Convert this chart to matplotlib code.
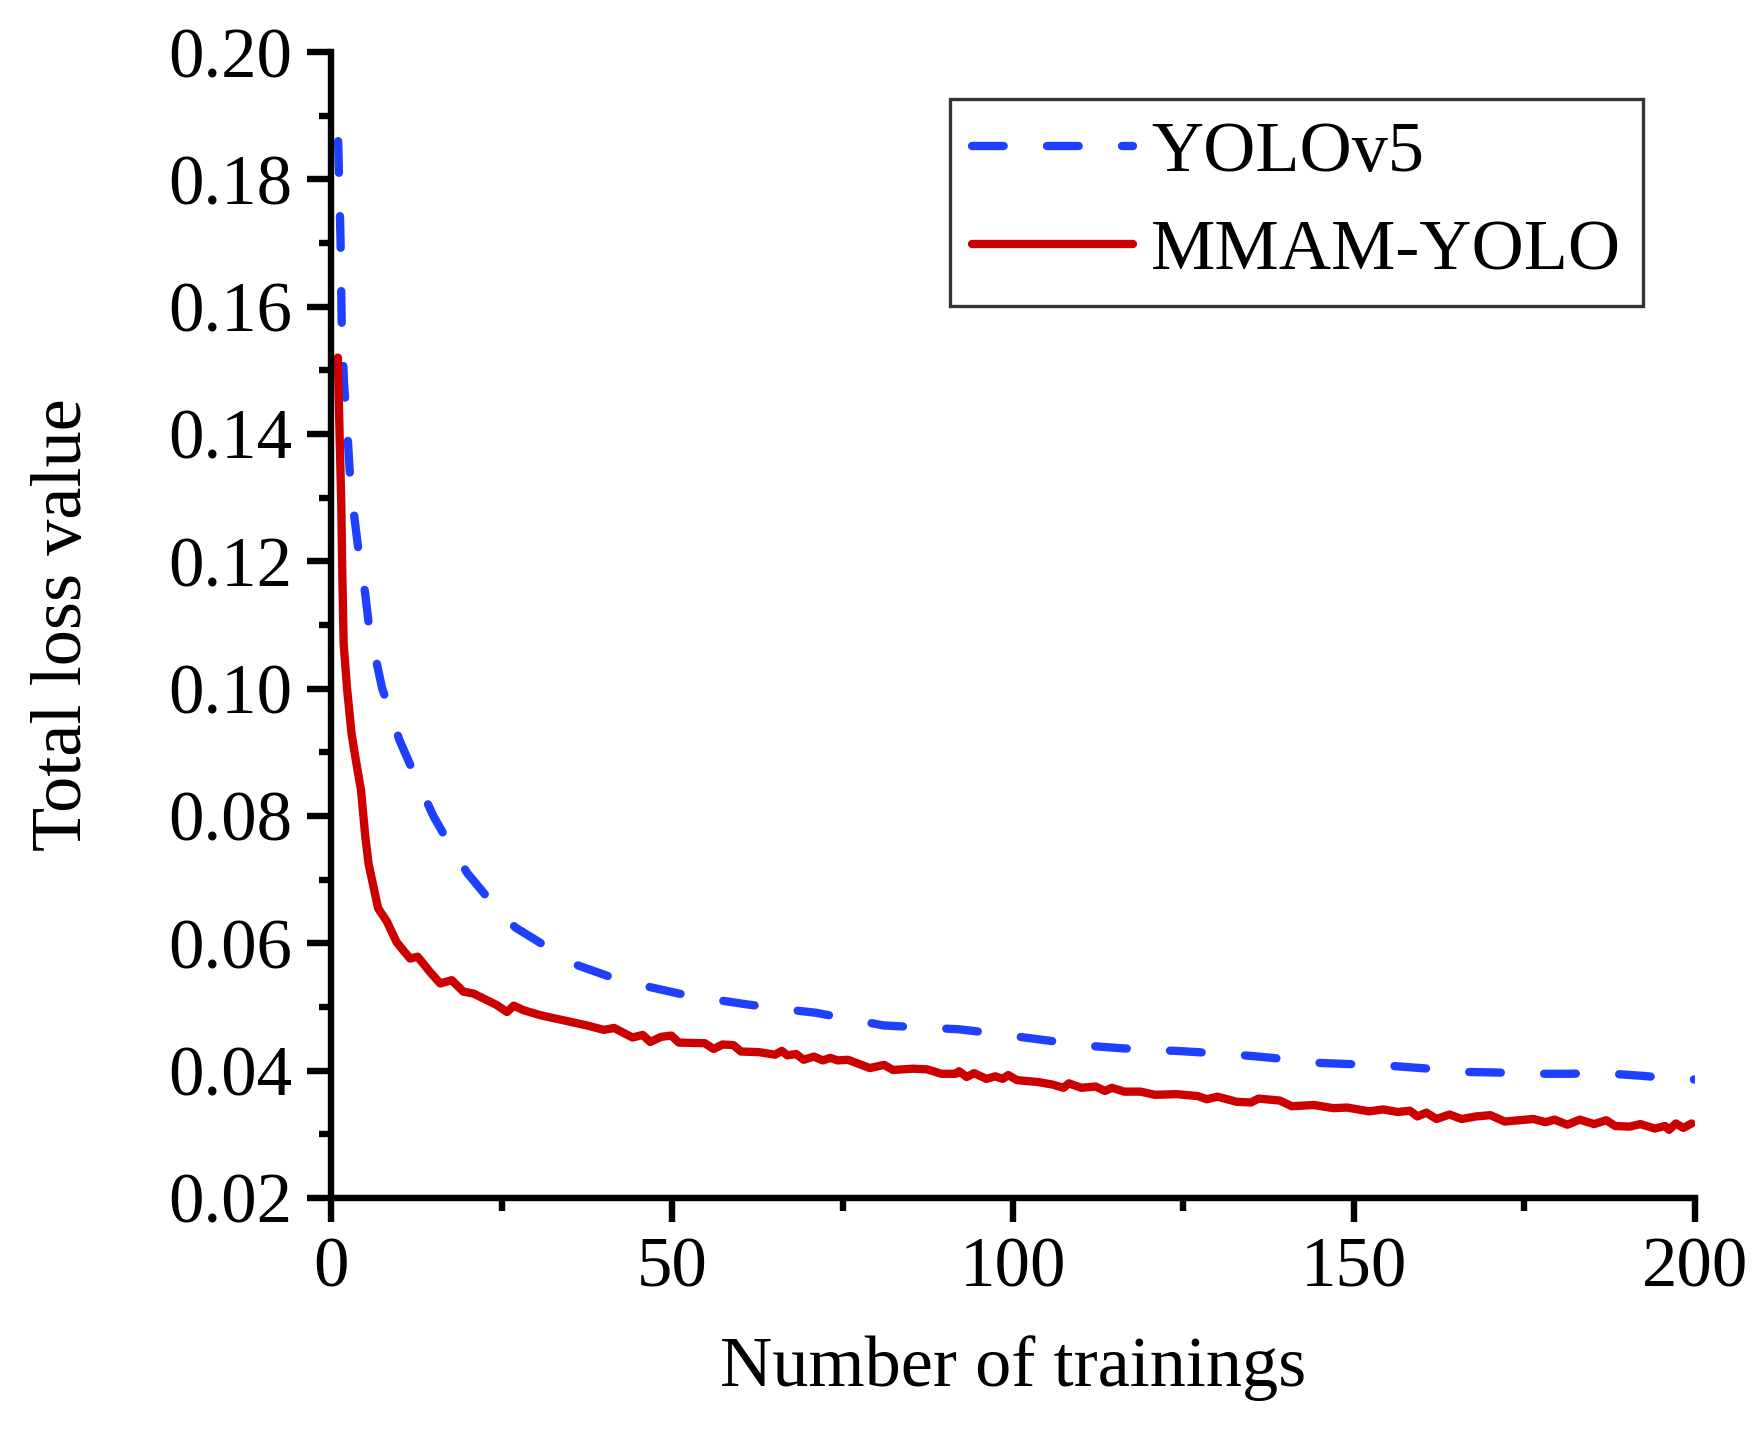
import numpy as np
import matplotlib
matplotlib.use("Agg")
import matplotlib.pyplot as plt
from matplotlib.ticker import MultipleLocator, FormatStrFormatter

plt.rcParams['font.family'] = ['Liberation Serif', 'DejaVu Serif']
plt.rcParams['mathtext.fontset'] = 'stix'

# YOLOv5 total loss
yolo_epoch = [1.05, 1.2, 1.4, 1.55, 1.9, 2.3, 2.75, 3.3, 4.1, 5.0, 5.6, 6.5, 7.5, 8.5,
              10.0, 12.4, 15.0, 17.5, 20.0, 23.4, 27.0, 32.0, 36.0, 41.0, 46.0, 51.0,
              56.0, 61.0, 66.0, 71.0, 76.0, 81.0, 86.0, 92.0, 96.0, 101.0, 106.0, 111.0,
              116.0, 121.0, 124.0, 130.0, 135.0, 140.0, 145.0, 150.0, 156.0, 161.0,
              166.0, 171.0, 176.5, 181.0, 186.5, 192.0, 197.5, 200.0]
yolo_loss = [0.186, 0.179, 0.170, 0.158, 0.148, 0.142, 0.134, 0.128, 0.121, 0.115, 0.1095,
             0.105, 0.100, 0.097, 0.092, 0.0861, 0.0800, 0.0753, 0.0710, 0.0666, 0.0625,
             0.0592, 0.0566, 0.0547, 0.0533, 0.0521, 0.0512, 0.0504, 0.0497, 0.0491,
             0.0481, 0.0471, 0.0468, 0.0465, 0.0460, 0.0453, 0.0446, 0.0439, 0.0435,
             0.0432, 0.0431, 0.0427, 0.0423, 0.0418, 0.0412, 0.0410, 0.0407, 0.0403,
             0.0398, 0.0397, 0.0395, 0.0395, 0.0396, 0.0392, 0.0387, 0.0386]

# MMAM-YOLO total loss
mmam_epoch = [1.0, 1.25, 1.5, 1.65, 1.85, 2.35, 3.0, 3.6, 4.4, 5.0, 5.5, 6.0, 6.9, 8.2,
              9.6, 10.5, 11.6, 12.7, 14.5, 16.0, 17.7, 19.4, 20.9, 22.4, 24.3, 25.8, 26.8,
              28.2, 30.7, 34.1, 37.5, 40.0, 41.5, 44.2, 45.7, 46.8, 48.4, 49.9, 51.0, 54.8,
              56.1, 57.4, 59.0, 60.1, 62.7, 65.1, 66.1, 66.9, 68.2, 69.3, 70.8, 72.1, 73.2,
              74.3, 75.8, 79.0, 81.1, 82.4, 85.3, 87.4, 89.5, 91.6, 92.1, 93.2, 94.3, 96.1,
              97.4, 98.5, 99.3, 100.6, 103.7, 105.8, 107.4, 108.2, 110.0, 112.1, 113.5,
              114.5, 116.3, 118.7, 120.8, 124.0, 127.1, 128.4, 130.0, 132.8, 134.9, 136.0,
              139.1, 140.9, 144.1, 147.0, 149.0, 152.2, 154.3, 156.4, 158.2, 159.3, 160.6,
              162.1, 164.0, 165.8, 167.9, 170.0, 172.1, 174.2, 176.3, 178.1, 179.4, 181.3,
              183.1, 185.2, 187.0, 188.3, 190.4, 192.0, 194.1, 195.6, 196.2, 197.2, 198.3,
              199.5]
mmam_loss = [0.152, 0.140, 0.129, 0.118, 0.107, 0.100, 0.093, 0.089, 0.084, 0.077, 0.0725,
             0.0700, 0.0655, 0.0634, 0.0602, 0.0590, 0.0576, 0.0579, 0.0555, 0.0537, 0.0542,
             0.0524, 0.0521, 0.0513, 0.0503, 0.0492, 0.0502, 0.0495, 0.0487, 0.0479, 0.0471,
             0.0464, 0.0467, 0.0452, 0.0456, 0.0445, 0.0453, 0.0455, 0.0444, 0.0443, 0.0434,
             0.0441, 0.0440, 0.0430, 0.0429, 0.0425, 0.0431, 0.0424, 0.0426, 0.0417, 0.0422,
             0.0416, 0.0420, 0.0416, 0.0417, 0.0404, 0.0409, 0.0401, 0.0403, 0.0402, 0.0395,
             0.0395, 0.0399, 0.0390, 0.0396, 0.0387, 0.0391, 0.0387, 0.0393, 0.0385, 0.0382,
             0.0378, 0.0373, 0.0380, 0.0373, 0.0375, 0.0368, 0.0373, 0.0367, 0.0367, 0.0362,
             0.0363, 0.0360, 0.0355, 0.0359, 0.0351, 0.0350, 0.0356, 0.0353, 0.0344, 0.0346,
             0.0341, 0.0342, 0.0336, 0.0339, 0.0335, 0.0337, 0.0328, 0.0334, 0.0324, 0.0331,
             0.0324, 0.0328, 0.0330, 0.0320, 0.0322, 0.0324, 0.0319, 0.0323, 0.0315, 0.0323,
             0.0316, 0.0322, 0.0313, 0.0312, 0.0316, 0.0309, 0.0313, 0.0307, 0.0317, 0.0310,
             0.0317]

fig = plt.figure(figsize=(17.59, 14.29), dpi=100)
ax = fig.add_axes([0.1882, 0.1617, 0.9636 - 0.1882, 0.9636 - 0.1617])

ax.plot(yolo_epoch, yolo_loss, color='#2040FF', lw=6.0, linestyle=(0, (3.8, 5.2)),
        dash_capstyle='round', label='YOLOv5')
ax.plot(mmam_epoch, mmam_loss, color='#CC0000', lw=6.0, solid_capstyle='round',
        label='MMAM-YOLO')

ax.set_xlim(0, 200)
ax.set_ylim(0.02, 0.20)
ax.xaxis.set_major_locator(MultipleLocator(50))
ax.xaxis.set_minor_locator(MultipleLocator(25))
ax.yaxis.set_major_locator(MultipleLocator(0.02))
ax.yaxis.set_minor_locator(MultipleLocator(0.01))
ax.yaxis.set_major_formatter(FormatStrFormatter('%.2f'))

for s in ['top', 'right']:
    ax.spines[s].set_visible(False)
for s in ['left', 'bottom']:
    ax.spines[s].set_linewidth(4.6)

ax.tick_params(which='major', direction='out', length=17, width=4.6, labelsize=51, pad=11)
ax.tick_params(which='minor', direction='out', length=9, width=4.6)

ax.set_xlabel('Number of trainings', fontsize=52, labelpad=24)
ax.set_ylabel('Total loss value', fontsize=52, labelpad=52)

leg = ax.legend(loc='upper right', bbox_to_anchor=(0.962, 0.959), fontsize=52,
                frameon=True, fancybox=False, shadow=False, handlelength=2.24,
                handletextpad=0.25, borderpad=0.3, labelspacing=0.45,
                borderaxespad=0.0)
leg.get_frame().set_edgecolor('black')
leg.get_frame().set_linewidth(2.4)

fig.savefig('out.png', dpi=100)
